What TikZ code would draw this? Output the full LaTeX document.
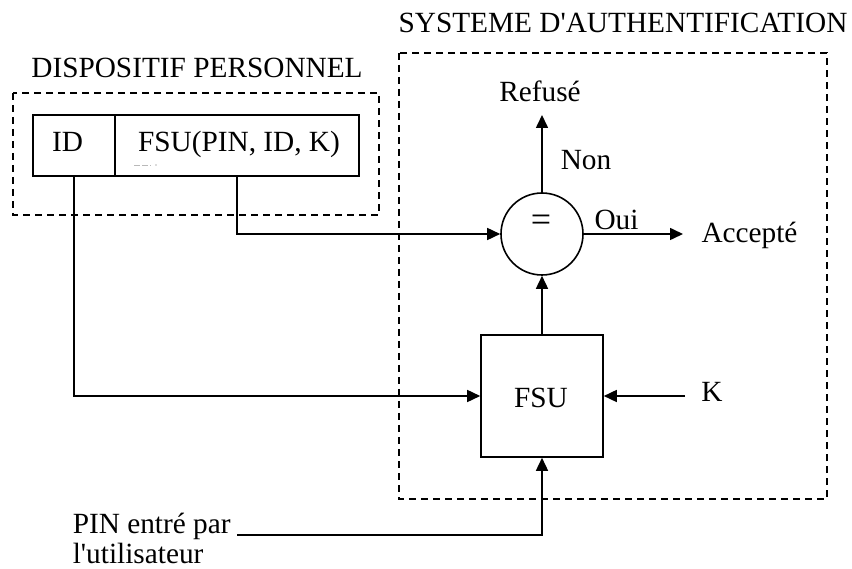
\documentclass[tikz,border=0pt]{standalone}
\usepackage{fontspec}
\setmainfont{Liberation Serif}[Ligatures=TeXOff]
\usetikzlibrary{arrows.meta}
\begin{document}
\begin{tikzpicture}[x=1pt,y=-1pt,
  line width=1.6pt,
  every node/.style={font=\fontsize{29.3}{31}\selectfont, inner sep=0pt},
  lbl/.style={anchor=base},
  lblw/.style={anchor=base west},
  cell/.style={draw, rectangle, minimum height=61pt},
  dashbox/.style={draw, line width=1.3pt, dash pattern=on 7pt off 5pt},
  arr/.style={-{Triangle[length=13pt,width=12pt]}}
]
\useasboundingbox (0,0) rectangle (852,569);

% dashed enclosures
\draw[dashbox] (13,93) rectangle (379,215);
\draw[dashbox] (399,53) rectangle (827,499);

% titles
\node[lbl] (tdp) at (197,78) {DISPOSITIF PERSONNEL};
\node[lbl] (tsa) at (623,33) {SYSTEME D'AUTHENTIFICATION};

% personal device cells
\node[cell, minimum width=82pt] (idcell) at (74,145.5) {};
\node[cell, minimum width=244pt] (fsucell) at (237,145.5) {};
\node[lbl] (idtxt) at (67.5,152) {ID};
\node[lbl] (fsutxt) at (239,152) {FSU(PIN, ID, K)};
\draw[gray!55, line width=0.8pt, dash pattern=on 6pt off 2pt] (134,165) -- (151,165);
\fill[gray!55] (156,165) circle (0.8pt);

% comparator and FSU block
\node[draw, circle, minimum size=82pt] (eq) at (542,234) {};
\node[font=\fontsize{36}{36}\selectfont] (eqtxt) at (541,223) {=};
\node[draw, rectangle, minimum width=122pt, minimum height=122pt] (fsu) at (542,396) {};
\node[lbl] (fsulbl) at (541,407) {FSU};

% labels
\node[lbl] (refuse) at (540,102) {Refusé};
\node[lbl] (non) at (586,170) {Non};
\node[lbl] (oui) at (616.5,230) {Oui};
\node[lbl] (accepte) at (749.5,243) {Accepté};
\node[lbl] (k) at (712,402) {K};
\node[lblw] (pin1) at (72,533) {PIN entré par};
\node[lblw] (pin2) at (72,563) {l'utilisateur};

% connector end points
\coordinate (reftip) at (542,115);
\coordinate (acctip) at (683,234);
\coordinate (kstart) at (685,396);
\coordinate (pinstart) at (237,535);

% connectors
\draw[arr] (idcell.south) |- (fsu.west);
\draw[arr] (fsucell.south) |- (eq.west);
\draw[arr] (fsu.north) -- (eq.south);
\draw[arr] (eq.north) -- (reftip);
\draw[arr] (eq.east) -- (acctip);
\draw[arr] (kstart) -- (fsu.east);
\draw[arr] (pinstart) -| (fsu.south);
\end{tikzpicture}
\end{document}
